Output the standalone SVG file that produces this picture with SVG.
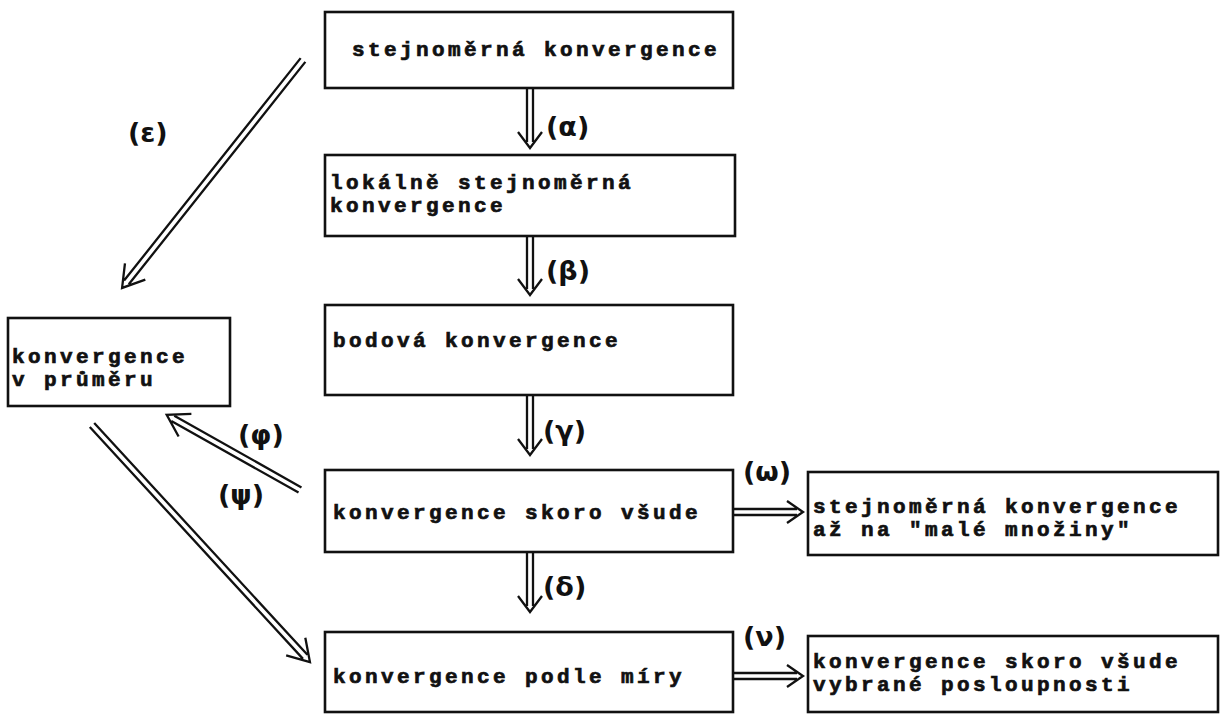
<svg xmlns="http://www.w3.org/2000/svg" width="1221" height="715" viewBox="0 0 1221 715">
<style>
.box{fill:none;stroke:#111;stroke-width:2.6}
.t{font-family:"Liberation Mono",monospace;font-weight:bold;font-size:21px;letter-spacing:3.4px;fill:#111;stroke:#111;stroke-width:0.7px}
.lbl{font-family:"DejaVu Sans",sans-serif;font-weight:bold;font-size:27px;fill:#111}
.arr{fill:none;stroke:#111;stroke-width:2.3}
</style>
<rect width="1221" height="715" fill="#fff"/>
<g id="connectors">
  <g transform="translate(530,88) rotate(90)"><path class="arr" d="M0,-3H54M0,3H54M44,-12L60,0L44,12"/></g>
  <g transform="translate(530,236) rotate(90)"><path class="arr" d="M0,-3H53M0,3H53M43,-12L59,0L43,12"/></g>
  <g transform="translate(530,395) rotate(90)"><path class="arr" d="M0,-3H54M0,3H54M44,-12L60,0L44,12"/></g>
  <g transform="translate(530,552) rotate(90)"><path class="arr" d="M0,-3H54M0,3H54M44,-12L60,0L44,12"/></g>
  <g transform="translate(303,60) rotate(128.44)"><path class="arr" d="M0,-3H284M0,3H284M270,-13L291,0L270,13"/></g>
  <g transform="translate(300,490) rotate(-150.6)"><path class="arr" d="M0,-3H146M0,3H146M132,-13L153,0L132,13"/></g>
  <g transform="translate(92,425) rotate(47.4)"><path class="arr" d="M0,-3H315M0,3H315M301,-13L322,0L301,13"/></g>
  <g transform="translate(733,512)"><path class="arr" d="M0,-3H64M0,3H64M54,-11L70,0L54,11"/></g>
  <g transform="translate(733,676)"><path class="arr" d="M0,-3H64M0,3H64M54,-11L70,0L54,11"/></g>
  <text class="lbl" x="546" y="136">(α)</text>
  <text class="lbl" x="546" y="280">(β)</text>
  <text class="lbl" x="543" y="440">(γ)</text>
  <text class="lbl" x="543" y="596">(δ)</text>
  <text class="lbl" x="128" y="142">(ε)</text>
  <text class="lbl" x="238" y="444">(φ)</text>
  <text class="lbl" x="218" y="504">(ψ)</text>
  <text class="lbl" x="743" y="481">(ω)</text>
  <text class="lbl" x="743" y="646">(ν)</text>
</g>
<g id="n1"><rect class="box" x="325" y="12" width="408" height="76"/><text class="t" x="352" y="56">stejnoměrná konvergence</text></g>
<g id="n2"><rect class="box" x="325" y="155" width="410" height="81"/><text class="t" x="330" y="189">lokálně stejnoměrná</text><text class="t" x="330" y="212">konvergence</text></g>
<g id="n3"><rect class="box" x="325" y="305" width="408" height="90"/><text class="t" x="333" y="347">bodová konvergence</text></g>
<g id="n4"><rect class="box" x="325" y="470" width="408" height="82"/><text class="t" x="333" y="519">konvergence skoro všude</text></g>
<g id="n5"><rect class="box" x="325" y="632" width="408" height="80"/><text class="t" x="333" y="683">konvergence podle míry</text></g>
<g id="n6"><rect class="box" x="8" y="318" width="222" height="88"/><text class="t" x="12" y="363">konvergence</text><text class="t" x="12" y="386">v průměru</text></g>
<g id="n7"><rect class="box" x="808" y="472" width="410" height="83"/><text class="t" x="813" y="513">stejnoměrná konvergence</text><text class="t" x="813" y="536">až na "malé množiny"</text></g>
<g id="n8"><rect class="box" x="808" y="636" width="410" height="76"/><text class="t" x="813" y="668">konvergence skoro všude</text><text class="t" x="813" y="691">vybrané posloupnosti</text></g>
</svg>
